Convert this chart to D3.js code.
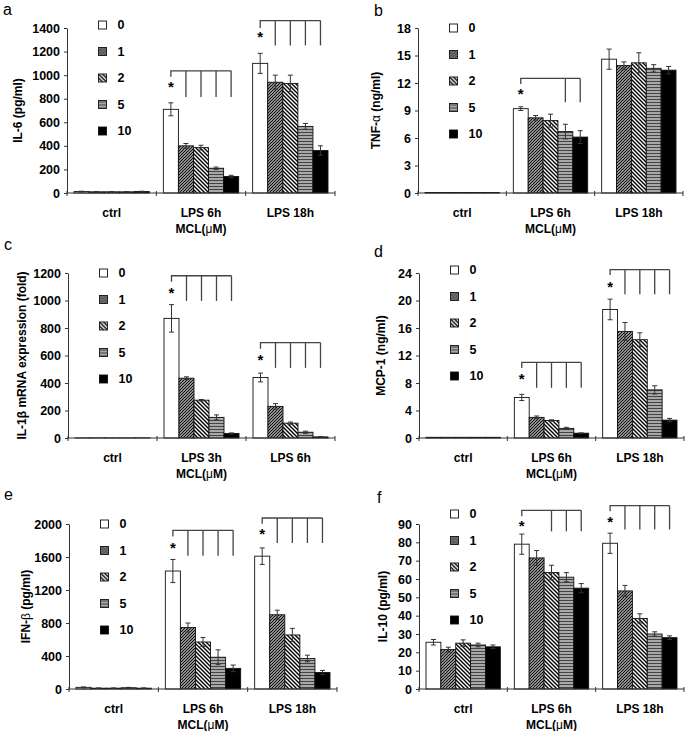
<!DOCTYPE html>
<html>
<head>
<meta charset="utf-8">
<script src="https://cdn.jsdelivr.net/npm/d3@7"></script>
<style>
  body { margin: 0; background: #fff; }
  svg { display: block; }
</style>
</head>
<body>
<script>
// Series (MCL dose, uM) and categories
const doses = ['0', '1', '2', '5', '10'];
const cats6h18h = ['ctrl', 'LPS 6h', 'LPS 18h'];
const cats3h6h = ['ctrl', 'LPS 3h', 'LPS 6h'];

// a: IL-6 (pg/ml)
const il6Mean = [[12, 10, 10, 10, 12], [710, 400, 385, 210, 140], [1100, 940, 930, 565, 360]];
const il6Err = [[3, 2, 2, 2, 3], [55, 20, 20, 10, 10], [85, 60, 70, 25, 40]];
const il6Ticks = [0, 200, 400, 600, 800, 1000, 1200, 1400];

// b: TNF-alpha (ng/ml)
const tnfMean = [[0.05, 0.05, 0.05, 0.05, 0.05], [9.2, 8.2, 7.9, 6.7, 6.1], [14.6, 13.9, 14.2, 13.6, 13.4]];
const tnfErr = [[0, 0, 0, 0, 0], [0.2, 0.25, 0.7, 0.8, 0.7], [1.1, 0.4, 1.1, 0.4, 0.4]];
const tnfTicks = [0, 3, 6, 9, 12, 15, 18];

// c: IL-1beta mRNA (fold)
const il1bMean = [[1, 1, 1, 1, 1], [870, 435, 275, 150, 33], [440, 230, 108, 42, 8]];
const il1bErr = [[0, 0, 0, 0, 0], [100, 10, 5, 18, 4], [32, 20, 8, 8, 2]];
const il1bTicks = [0, 200, 400, 600, 800, 1000, 1200];

// d: MCP-1 (ng/ml)
const mcpMean = [[0.1, 0.1, 0.1, 0.1, 0.1], [5.9, 3.0, 2.55, 1.4, 0.7], [18.7, 15.5, 14.3, 7.0, 2.6]];
const mcpErr = [[0, 0, 0, 0, 0], [0.45, 0.2, 0.1, 0.15, 0.05], [1.5, 1.3, 1.0, 0.6, 0.25]];
const mcpTicks = [0, 4, 8, 12, 16, 20, 24];

// e: IFN-beta (pg/ml)
const ifnMean = [[20, 10, 10, 15, 10], [1430, 745, 570, 385, 250], [1610, 900, 655, 370, 200]];
const ifnErr = [[5, 3, 3, 5, 3], [140, 55, 55, 90, 40], [100, 55, 80, 40, 25]];
const ifnTicks = [0, 400, 800, 1200, 1600, 2000];

// f: IL-10 (pg/ml)
const il10Mean = [[25.5, 21.5, 25, 24, 23], [79, 71.5, 63.5, 61, 55], [79.5, 53.5, 38.5, 30, 28]];
const il10Err = [[1.5, 1.3, 1.8, 1, 1], [5.5, 4, 4, 2.5, 2.5], [5.5, 3, 2.5, 1.2, 1]];
const il10Ticks = [0, 10, 20, 30, 40, 50, 60, 70, 80, 90];

// significance brackets, in data units of each panel
const il6Sig = [
  { cat: 1, top: 1037, drop: 986, bottom: 814, star: 922, bars: [1, 2, 3, 4] },
  { cat: 2, top: 1463, drop: 1400, bottom: 1252, star: 1349, bars: [1, 2, 3, 4] }
];
const tnfSig = [
  { cat: 1, top: 12.5, drop: 11.9, bottom: 9.9, star: 11.1, bars: [3, 4] }
];
const il1bSig = [
  { cat: 1, top: 1180, drop: 1136, bottom: 997, star: 1077, bars: [1, 2, 3, 4] },
  { cat: 2, top: 693, drop: 649, bottom: 510, star: 590, bars: [1, 2, 3, 4] }
];
const mcpSig = [
  { cat: 1, top: 11.0, drop: 10.2, bottom: 7.3, star: 9.0, bars: [1, 2, 3, 4] },
  { cat: 2, top: 24.5, drop: 23.7, bottom: 20.9, star: 22.4, bars: [1, 2, 3, 4] }
];
const ifnSig = [
  { cat: 1, top: 1923, drop: 1850, bottom: 1615, star: 1749, bars: [1, 2, 3, 4] },
  { cat: 2, top: 2073, drop: 2004, bottom: 1770, star: 1910, bars: [1, 2, 3, 4] }
];
const il10Sig = [
  { cat: 1, top: 97.4, drop: 94.2, bottom: 86, star: 90.3, bars: [2, 3, 4] },
  { cat: 2, top: 100, drop: 96.9, bottom: 87, star: 92.7, bars: [1, 2, 3, 4] }
];

// Panel layout
const H = 165;
const panels = [
  { letter: 'a', lx: 3, ly: 15, x: 67, w: 268, y0: 193, cats: cats6h18h, mean: il6Mean, err: il6Err, ticks: il6Ticks, sig: il6Sig,
    label: [['IL-6 (pg/ml)', 0]], labelDx: -49, legendDy: -3 },
  { letter: 'b', lx: 374, ly: 16, x: 418, w: 265, y0: 193, cats: cats6h18h, mean: tnfMean, err: tnfErr, ticks: tnfTicks, sig: tnfSig,
    label: [['TNF-', 0], ['α', 1], [' (ng/ml)', 0]], labelDx: -42, legendDy: 0 },
  { letter: 'c', lx: 4, ly: 250, x: 68, w: 267, y0: 438, cats: cats3h6h, mean: il1bMean, err: il1bErr, ticks: il1bTicks, sig: il1bSig,
    label: [['IL-1β mRNA expression (fold)', 0]], labelDx: -46, legendDy: 0 },
  { letter: 'd', lx: 374, ly: 257, x: 419, w: 265, y0: 438, cats: cats6h18h, mean: mcpMean, err: mcpErr, ticks: mcpTicks, sig: mcpSig,
    label: [['MCP-1 (ng/ml)', 0]], labelDx: -38, legendDy: -3 },
  { letter: 'e', lx: 4, ly: 500, x: 69, w: 268, y0: 689, cats: cats6h18h, mean: ifnMean, err: ifnErr, ticks: ifnTicks, sig: ifnSig,
    label: [['IFN-', 0], ['β', 1], [' (pg/ml)', 0]], labelDx: -43, legendDy: 0 },
  { letter: 'f', lx: 377, ly: 503, x: 419, w: 265, y0: 689, cats: cats6h18h, mean: il10Mean, err: il10Err, ticks: il10Ticks, sig: il10Sig,
    label: [['IL-10 (pg/ml)', 0]], labelDx: -36, legendDy: -10 }
];

const svg = d3.select('body').append('svg')
  .attr('width', 685)
  .attr('height', 731)
  .style('font-family', '"Liberation Sans", Arial, sans-serif');

// fill patterns for each dose
const defs = svg.append('defs');

const p1 = defs.append('pattern').attr('id', 'pat1')
  .attr('patternUnits', 'userSpaceOnUse').attr('width', 3).attr('height', 3);
p1.append('rect').attr('width', 3).attr('height', 3).attr('fill', '#eee');
p1.append('path').attr('d', 'M0,3 L3,0 M-1,1 L1,-1 M2,4 L4,2')
  .attr('stroke', '#111').attr('stroke-width', 1.25);

const p2 = defs.append('pattern').attr('id', 'pat2')
  .attr('patternUnits', 'userSpaceOnUse').attr('width', 4).attr('height', 4);
p2.append('rect').attr('width', 4).attr('height', 4).attr('fill', '#fff');
p2.append('path').attr('d', 'M0,0 L4,4 M-1,3 L1,5 M3,-1 L5,1')
  .attr('stroke', '#000').attr('stroke-width', 1.4);

const p5 = defs.append('pattern').attr('id', 'pat5')
  .attr('patternUnits', 'userSpaceOnUse').attr('width', 4).attr('height', 3);
p5.append('rect').attr('width', 4).attr('height', 3).attr('fill', '#a8a8a8');
p5.append('rect').attr('width', 4).attr('height', 1).attr('fill', '#444');

const fills = ['#fff', 'url(#pat1)', 'url(#pat2)', 'url(#pat5)', '#000'];
const ink = '#333';

panels.forEach(p => {
  const g = svg.append('g');

  const x = d3.scaleBand().domain(p.cats).range([p.x, p.x + p.w]);
  const xs = d3.scaleBand().domain(doses).range([7, x.bandwidth() - 7]);
  const y = d3.scaleLinear().domain([0, d3.max(p.ticks)]).range([p.y0, p.y0 - H]);

  const rows = [];
  p.cats.forEach((c, i) => {
    doses.forEach((d, j) => {
      rows.push({ cat: c, dose: d, j: j, v: p.mean[i][j], e: p.err[i][j] });
    });
  });
  const cx = r => x(r.cat) + xs(r.dose) + xs.bandwidth() / 2;

  // bars
  g.append('g').selectAll('rect')
    .data(rows)
    .join('rect')
    .attr('x', r => x(r.cat) + xs(r.dose))
    .attr('y', r => y(r.v))
    .attr('width', xs.bandwidth())
    .attr('height', r => y(0) - y(r.v))
    .attr('fill', r => fills[r.j])
    .attr('stroke', '#111')
    .attr('stroke-width', 0.9);

  // error bars
  const eb = g.append('g').attr('stroke', ink).attr('stroke-width', 1)
    .selectAll('g')
    .data(rows.filter(r => r.e > 0))
    .join('g');
  eb.append('line')
    .attr('x1', cx).attr('x2', cx)
    .attr('y1', r => y(r.v - r.e)).attr('y2', r => y(r.v + r.e));
  eb.append('line')
    .attr('x1', r => cx(r) - 2.5).attr('x2', r => cx(r) + 2.5)
    .attr('y1', r => y(r.v + r.e)).attr('y2', r => y(r.v + r.e));
  eb.append('line')
    .attr('x1', r => cx(r) - 2.5).attr('x2', r => cx(r) + 2.5)
    .attr('y1', r => y(r.v - r.e)).attr('y2', r => y(r.v - r.e));

  // y axis
  const yAxis = g.append('g')
    .attr('transform', `translate(${p.x},0)`)
    .call(d3.axisLeft(y).tickValues(p.ticks).tickFormat(d3.format('d'))
      .tickSize(3).tickSizeOuter(0).tickPadding(4));
  yAxis.selectAll('path, line').attr('stroke', ink);
  yAxis.selectAll('text')
    .attr('font-size', 12.5)
    .attr('font-weight', 'bold')
    .attr('font-family', '"Liberation Sans", Arial, sans-serif')
    .attr('fill', '#000');

  // x axis line with ticks between categories
  g.append('line')
    .attr('x1', p.x).attr('x2', p.x + p.w)
    .attr('y1', p.y0).attr('y2', p.y0)
    .attr('stroke', ink);
  const bounds = p.cats.map(c => x(c)).concat([p.x + p.w]);
  g.append('g').selectAll('line')
    .data(bounds)
    .join('line')
    .attr('x1', d => d).attr('x2', d => d)
    .attr('y1', p.y0 - 2).attr('y2', p.y0 + 3)
    .attr('stroke', ink);

  // category labels
  g.append('g').selectAll('text')
    .data(p.cats)
    .join('text')
    .attr('x', c => x(c) + x.bandwidth() / 2)
    .attr('y', p.y0 + 24)
    .attr('text-anchor', 'middle')
    .attr('font-size', 12)
    .attr('font-weight', 'bold')
    .text(c => c);

  const mcl = g.append('text')
    .attr('x', x(p.cats[1]) + x.bandwidth() / 2)
    .attr('y', p.y0 + 40)
    .attr('text-anchor', 'middle')
    .attr('font-size', 12)
    .attr('font-weight', 'bold');
  mcl.append('tspan').text('MCL(');
  mcl.append('tspan').attr('font-weight', 'normal').text('μ');
  mcl.append('tspan').text('M)');

  // y axis title
  const yl = g.append('text')
    .attr('transform', `translate(${p.x + p.labelDx},${p.y0 - H / 2}) rotate(-90)`)
    .attr('text-anchor', 'middle')
    .attr('dy', '0.35em')
    .attr('font-size', 12)
    .attr('font-weight', 'bold');
  p.label.forEach(([t, greek]) => {
    yl.append('tspan').attr('font-weight', greek ? 'normal' : 'bold').text(t);
  });

  // panel letter
  g.append('text')
    .attr('x', p.lx).attr('y', p.ly)
    .attr('font-size', 16)
    .text(p.letter);

  // legend
  const leg = g.append('g').selectAll('g')
    .data(doses)
    .join('g')
    .attr('transform', (d, j) => `translate(${p.x + 31.5},${p.y0 - H + p.legendDy + j * 26.5})`);
  leg.append('rect')
    .attr('x', 0).attr('y', -4)
    .attr('width', 8).attr('height', 8)
    .attr('fill', (d, j) => fills[j])
    .attr('stroke', '#111')
    .attr('stroke-width', 0.9);
  leg.append('text')
    .attr('x', 19).attr('y', 0)
    .attr('dy', '0.35em')
    .attr('font-size', 12.5)
    .attr('font-weight', 'bold')
    .text(d => d);

  // significance brackets
  p.sig.forEach(s => {
    const c = p.cats[s.cat];
    const bx = j => x(c) + xs(doses[j]) + xs.bandwidth() / 2;
    const sg = g.append('g').attr('stroke', '#444').attr('stroke-width', 1.3).attr('fill', 'none');
    sg.append('path')
      .attr('d', `M${bx(0)},${y(s.drop)} V${y(s.top)} H${bx(4)}`);
    s.bars.forEach(j => {
      sg.append('line')
        .attr('x1', bx(j)).attr('x2', bx(j))
        .attr('y1', y(s.top)).attr('y2', y(s.bottom));
    });
    g.append('text')
      .attr('x', bx(0)).attr('y', y(s.star) + 8)
      .attr('text-anchor', 'middle')
      .attr('font-size', 15)
      .attr('font-weight', 'bold')
      .text('*');
  });
});
</script>
</body>
</html>
